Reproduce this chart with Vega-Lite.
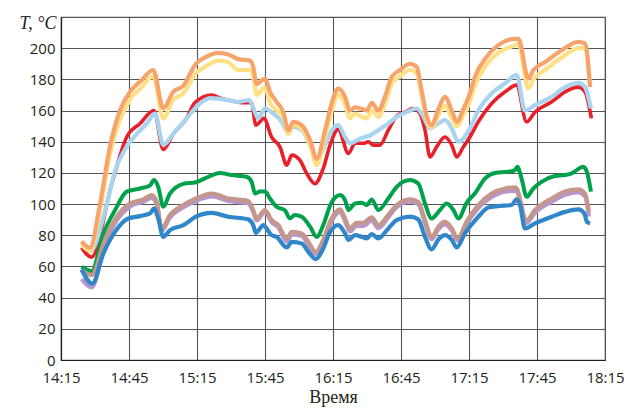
{
  "$schema": "https://vega.github.io/schema/vega-lite/v6.json",
  "width": 544,
  "height": 343,
  "autosize": {"type": "none"},
  "padding": {"left": 61, "top": 17, "right": 22, "bottom": 49},
  "background": "white",
  "config": {
    "view": {"stroke": "#555555", "strokeWidth": 1.2},
    "axis": {
      "labelFont": "Open Sans",
      "labelFontSize": 15,
      "labelColor": "#231f20",
      "ticks": false,
      "gridColor": "#555555",
      "gridOpacity": 1,
      "gridWidth": 1.1,
      "domainColor": "#231f20",
      "domainWidth": 1.2
    }
  },
  "datasets": {
    "red": [
      {"min": 9.1, "T": 72}, {"min": 13.5, "T": 66}, {"min": 22.4, "T": 113}, {"min": 29, "T": 143}, {"min": 34.9, "T": 151.7}, {"min": 41, "T": 160}, {"min": 45.1, "T": 135}, {"min": 49.5, "T": 145}, {"min": 55.4, "T": 155}, {"min": 59, "T": 165}, {"min": 66.5, "T": 170}, {"min": 70, "T": 168}, {"min": 76, "T": 166}, {"min": 80, "T": 165}, {"min": 84, "T": 165}, {"min": 86, "T": 150.6}, {"min": 89.5, "T": 155}, {"min": 92.9, "T": 143}, {"min": 96.6, "T": 136.7}, {"min": 99.6, "T": 125}, {"min": 101.8, "T": 131.4}, {"min": 105.4, "T": 128.2}, {"min": 108.4, "T": 119.7}, {"min": 112, "T": 113}, {"min": 115.7, "T": 122.9}, {"min": 118.7, "T": 137.8}, {"min": 122.3, "T": 148}, {"min": 126.8, "T": 132.5}, {"min": 129.7, "T": 139}, {"min": 133.4, "T": 139}, {"min": 135.6, "T": 140}, {"min": 137.8, "T": 137.8}, {"min": 140.7, "T": 137.8}, {"min": 144.4, "T": 147.4}, {"min": 148.1, "T": 156.4}, {"min": 151.8, "T": 159}, {"min": 155.4, "T": 161.3}, {"min": 158.4, "T": 158}, {"min": 160.6, "T": 147.4}, {"min": 162.8, "T": 130.3}, {"min": 165.7, "T": 136.7}, {"min": 169.4, "T": 143}, {"min": 172.4, "T": 137.8}, {"min": 174.6, "T": 130.3}, {"min": 177.5, "T": 136.7}, {"min": 180.4, "T": 143}, {"min": 184.1, "T": 152.8}, {"min": 190, "T": 164.5}, {"min": 195.9, "T": 172}, {"min": 201, "T": 176.3}, {"min": 205.4, "T": 152.8}, {"min": 209.1, "T": 159}, {"min": 216.5, "T": 165.6}, {"min": 222.4, "T": 172}, {"min": 228.2, "T": 175}, {"min": 231.2, "T": 172}, {"min": 234, "T": 155}
    ],
    "lightblue": [
      {"min": 9.1, "T": 74}, {"min": 13, "T": 70}, {"min": 20.2, "T": 100}, {"min": 24, "T": 122}, {"min": 28.2, "T": 135}, {"min": 33.4, "T": 145}, {"min": 38, "T": 152}, {"min": 41.5, "T": 158}, {"min": 45.1, "T": 138}, {"min": 49.5, "T": 145}, {"min": 55.4, "T": 155}, {"min": 61.3, "T": 164.5}, {"min": 66, "T": 168}, {"min": 73.8, "T": 166.7}, {"min": 78, "T": 165.5}, {"min": 83, "T": 166.7}, {"min": 84.5, "T": 163}, {"min": 87, "T": 155}, {"min": 90, "T": 161.3}, {"min": 93.7, "T": 158}, {"min": 97.4, "T": 152.8}, {"min": 100.3, "T": 145.3}, {"min": 102.5, "T": 149.6}, {"min": 106.2, "T": 147.4}, {"min": 109.9, "T": 137.8}, {"min": 112.8, "T": 129}, {"min": 116.5, "T": 137.8}, {"min": 118.7, "T": 145.3}, {"min": 122.3, "T": 150.6}, {"min": 125.3, "T": 143}, {"min": 127.5, "T": 138.9}, {"min": 131.9, "T": 142}, {"min": 136.3, "T": 144}, {"min": 140, "T": 147.4}, {"min": 144.4, "T": 151.7}, {"min": 148.1, "T": 156}, {"min": 152.5, "T": 159}, {"min": 156.9, "T": 161.3}, {"min": 159.9, "T": 156}, {"min": 162.8, "T": 148.5}, {"min": 166.5, "T": 151.7}, {"min": 169.4, "T": 153.8}, {"min": 172.4, "T": 148.5}, {"min": 175.3, "T": 140}, {"min": 180.4, "T": 148.5}, {"min": 184.1, "T": 160}, {"min": 190, "T": 171}, {"min": 195.9, "T": 177.4}, {"min": 201, "T": 182.7}, {"min": 204.7, "T": 160}, {"min": 209.1, "T": 163.5}, {"min": 216.5, "T": 168.8}, {"min": 222.4, "T": 175}, {"min": 228.2, "T": 177.8}, {"min": 231.2, "T": 175}, {"min": 233.8, "T": 161.3}
    ],
    "yellow": [
      {"min": 9.1, "T": 74}, {"min": 12.8, "T": 70}, {"min": 17.2, "T": 96}, {"min": 21.6, "T": 132}, {"min": 26, "T": 154}, {"min": 30.4, "T": 167}, {"min": 35.6, "T": 175}, {"min": 40.7, "T": 182}, {"min": 45.1, "T": 155}, {"min": 49.5, "T": 167}, {"min": 54, "T": 171}, {"min": 59.5, "T": 184}, {"min": 63.5, "T": 188}, {"min": 69.4, "T": 192}, {"min": 73.8, "T": 191}, {"min": 78.2, "T": 186}, {"min": 83.4, "T": 186}, {"min": 84.8, "T": 182}, {"min": 86.3, "T": 170}, {"min": 90, "T": 175}, {"min": 92.2, "T": 165}, {"min": 95.1, "T": 160}, {"min": 98.1, "T": 156}, {"min": 100.3, "T": 145}, {"min": 102.5, "T": 151}, {"min": 106.2, "T": 148.5}, {"min": 109.9, "T": 138}, {"min": 112.8, "T": 125}, {"min": 116.5, "T": 143}, {"min": 119.5, "T": 160}, {"min": 122.3, "T": 170}, {"min": 125.3, "T": 164}, {"min": 127.5, "T": 155}, {"min": 129.7, "T": 158}, {"min": 132.7, "T": 156}, {"min": 134.9, "T": 155}, {"min": 137.1, "T": 160}, {"min": 140, "T": 156}, {"min": 142.9, "T": 164}, {"min": 145.9, "T": 177}, {"min": 149.6, "T": 182}, {"min": 154, "T": 186}, {"min": 156.9, "T": 184}, {"min": 159.1, "T": 170}, {"min": 161.4, "T": 154}, {"min": 163.5, "T": 149}, {"min": 166.5, "T": 157}, {"min": 169.4, "T": 163}, {"min": 172.4, "T": 155}, {"min": 174.6, "T": 150}, {"min": 177.5, "T": 157}, {"min": 180.4, "T": 166}, {"min": 182.6, "T": 176}, {"min": 187, "T": 188}, {"min": 192.9, "T": 197}, {"min": 200.3, "T": 202}, {"min": 201.8, "T": 203}, {"min": 206.2, "T": 174}, {"min": 208.4, "T": 180}, {"min": 213.5, "T": 186}, {"min": 220.9, "T": 194}, {"min": 228.2, "T": 200}, {"min": 231.2, "T": 200}, {"min": 233.4, "T": 176}
    ],
    "orange": [
      {"min": 9.1, "T": 76}, {"min": 12.8, "T": 72}, {"min": 17.2, "T": 100}, {"min": 21.6, "T": 137}, {"min": 26, "T": 160}, {"min": 30.4, "T": 172}, {"min": 35.6, "T": 179.5}, {"min": 40.7, "T": 186}, {"min": 45.1, "T": 161.5}, {"min": 49.5, "T": 172}, {"min": 54, "T": 176}, {"min": 59.5, "T": 190}, {"min": 63.5, "T": 194}, {"min": 69.4, "T": 197}, {"min": 73.8, "T": 196}, {"min": 78.2, "T": 193}, {"min": 83.4, "T": 192}, {"min": 84.8, "T": 188}, {"min": 86.3, "T": 177}, {"min": 90, "T": 180.5}, {"min": 92.2, "T": 172}, {"min": 95.1, "T": 165.6}, {"min": 98.1, "T": 159}, {"min": 100.3, "T": 147.4}, {"min": 102.5, "T": 152.8}, {"min": 106.2, "T": 150.6}, {"min": 109.9, "T": 141}, {"min": 112.8, "T": 129}, {"min": 116.5, "T": 147.4}, {"min": 119.5, "T": 165}, {"min": 122.3, "T": 174}, {"min": 125.3, "T": 168.8}, {"min": 127.5, "T": 160}, {"min": 129.7, "T": 162}, {"min": 132.7, "T": 161}, {"min": 134.9, "T": 160}, {"min": 137.1, "T": 165}, {"min": 140, "T": 160}, {"min": 142.9, "T": 168.8}, {"min": 145.9, "T": 181.6}, {"min": 149.6, "T": 186}, {"min": 154, "T": 190}, {"min": 156.9, "T": 188}, {"min": 159.1, "T": 173}, {"min": 161.4, "T": 156}, {"min": 163.5, "T": 150.6}, {"min": 166.5, "T": 161}, {"min": 169.4, "T": 168.8}, {"min": 172.4, "T": 160}, {"min": 174.6, "T": 152.8}, {"min": 177.5, "T": 161}, {"min": 180.4, "T": 171}, {"min": 182.6, "T": 181.6}, {"min": 187, "T": 193}, {"min": 192.9, "T": 202}, {"min": 200.3, "T": 206}, {"min": 201.8, "T": 206}, {"min": 206.2, "T": 180.5}, {"min": 208.4, "T": 186}, {"min": 213.5, "T": 191}, {"min": 220.9, "T": 198.7}, {"min": 228.2, "T": 204}, {"min": 231.2, "T": 203}, {"min": 233.4, "T": 175}
    ],
    "green": [
      {"min": 9.1, "T": 59.8}, {"min": 13.5, "T": 57}, {"min": 18.7, "T": 81}, {"min": 23.8, "T": 96}, {"min": 29, "T": 108}, {"min": 34.9, "T": 110}, {"min": 39.3, "T": 112}, {"min": 41, "T": 115.4}, {"min": 42.9, "T": 111}, {"min": 45.1, "T": 98.3}, {"min": 48.1, "T": 106.8}, {"min": 54, "T": 113}, {"min": 59.5, "T": 114}, {"min": 65, "T": 117.5}, {"min": 70.1, "T": 120}, {"min": 75.3, "T": 118.6}, {"min": 81.9, "T": 117.5}, {"min": 84.1, "T": 114.3}, {"min": 85.6, "T": 106.8}, {"min": 87.8, "T": 108}, {"min": 90, "T": 108}, {"min": 92.2, "T": 103.6}, {"min": 95.1, "T": 98.3}, {"min": 98.8, "T": 96}, {"min": 101, "T": 90.8}, {"min": 103.2, "T": 93}, {"min": 106.2, "T": 91.9}, {"min": 109.9, "T": 85.5}, {"min": 112.8, "T": 79}, {"min": 115.7, "T": 86.5}, {"min": 119, "T": 100}, {"min": 123.1, "T": 105.8}, {"min": 125.3, "T": 102.6}, {"min": 126.8, "T": 96.2}, {"min": 129.7, "T": 100.4}, {"min": 132.7, "T": 100.9}, {"min": 134.9, "T": 99.4}, {"min": 137.1, "T": 103}, {"min": 140, "T": 96.2}, {"min": 144.4, "T": 103.6}, {"min": 148.1, "T": 111}, {"min": 154, "T": 115.4}, {"min": 157.6, "T": 113.2}, {"min": 160.6, "T": 100.4}, {"min": 163.5, "T": 90.8}, {"min": 167.2, "T": 96.2}, {"min": 170.2, "T": 100.4}, {"min": 173.1, "T": 96.2}, {"min": 175.3, "T": 90.8}, {"min": 179, "T": 101}, {"min": 182.6, "T": 106.8}, {"min": 187, "T": 116.4}, {"min": 191.5, "T": 120}, {"min": 197.3, "T": 120.7}, {"min": 200.3, "T": 121.8}, {"min": 201.3, "T": 123.9}, {"min": 203.2, "T": 116.4}, {"min": 205.4, "T": 104.7}, {"min": 208.4, "T": 110}, {"min": 212, "T": 114.3}, {"min": 217.9, "T": 118}, {"min": 222.4, "T": 118.6}, {"min": 225.3, "T": 119.7}, {"min": 230.4, "T": 123.9}, {"min": 232, "T": 120.7}, {"min": 233.8, "T": 108}
    ],
    "purple": [
      {"min": 9.1, "T": 52}, {"min": 13.5, "T": 46.5}, {"min": 19.4, "T": 74}, {"min": 24.6, "T": 89.5}, {"min": 30.4, "T": 98.5}, {"min": 36.3, "T": 101.5}, {"min": 40, "T": 104}, {"min": 42.2, "T": 100}, {"min": 44.4, "T": 83}, {"min": 48.1, "T": 91.5}, {"min": 54, "T": 98}, {"min": 59.5, "T": 102}, {"min": 66.5, "T": 105}, {"min": 73.8, "T": 102}, {"min": 82.6, "T": 100.5}, {"min": 84.8, "T": 95}, {"min": 86.3, "T": 89.5}, {"min": 90, "T": 95}, {"min": 92.9, "T": 88.5}, {"min": 95.9, "T": 85}, {"min": 99.6, "T": 76}, {"min": 101.8, "T": 80.5}, {"min": 106.2, "T": 79.5}, {"min": 109.1, "T": 74}, {"min": 112.4, "T": 68}, {"min": 115.7, "T": 75.5}, {"min": 119, "T": 88}, {"min": 123.1, "T": 95}, {"min": 125.3, "T": 89}, {"min": 127.5, "T": 82.5}, {"min": 130.4, "T": 86}, {"min": 133.4, "T": 86}, {"min": 137.1, "T": 89.5}, {"min": 140, "T": 84.5}, {"min": 144.4, "T": 91.5}, {"min": 148.1, "T": 98}, {"min": 154, "T": 101.5}, {"min": 157.6, "T": 100}, {"min": 160.6, "T": 88}, {"min": 163.5, "T": 77.5}, {"min": 166.5, "T": 84}, {"min": 169.4, "T": 87}, {"min": 172.4, "T": 83}, {"min": 175, "T": 76.5}, {"min": 179, "T": 87.5}, {"min": 184.1, "T": 97.5}, {"min": 190, "T": 104.5}, {"min": 195.9, "T": 108}, {"min": 200.6, "T": 108.5}, {"min": 205.4, "T": 88}, {"min": 209.1, "T": 94.5}, {"min": 216.5, "T": 101.5}, {"min": 222.4, "T": 106}, {"min": 228.2, "T": 107.5}, {"min": 231.2, "T": 105}, {"min": 232.9, "T": 92}
    ],
    "brown": [
      {"min": 9.1, "T": 57.7}, {"min": 13.5, "T": 54.5}, {"min": 19.4, "T": 77}, {"min": 24.6, "T": 91.9}, {"min": 30.4, "T": 100.4}, {"min": 36.3, "T": 103}, {"min": 40, "T": 105.8}, {"min": 42.2, "T": 101.5}, {"min": 44.4, "T": 84.4}, {"min": 48.1, "T": 93}, {"min": 54, "T": 99.4}, {"min": 59.5, "T": 103.6}, {"min": 66.5, "T": 106.8}, {"min": 73.8, "T": 103.6}, {"min": 82.6, "T": 102}, {"min": 84.8, "T": 96.2}, {"min": 86.3, "T": 90.8}, {"min": 90, "T": 96.2}, {"min": 92.9, "T": 89.7}, {"min": 95.9, "T": 86.5}, {"min": 99.6, "T": 77.9}, {"min": 101.8, "T": 82.2}, {"min": 106.2, "T": 81.2}, {"min": 109.1, "T": 75.8}, {"min": 112.4, "T": 69.4}, {"min": 115.7, "T": 77}, {"min": 119, "T": 89.7}, {"min": 123.1, "T": 96.6}, {"min": 125.3, "T": 90.8}, {"min": 127.5, "T": 84.4}, {"min": 130.4, "T": 88}, {"min": 133.4, "T": 88}, {"min": 137.1, "T": 91.5}, {"min": 140, "T": 86.5}, {"min": 144.4, "T": 93}, {"min": 148.1, "T": 99.4}, {"min": 154, "T": 103}, {"min": 157.6, "T": 101.5}, {"min": 160.6, "T": 89.7}, {"min": 163.5, "T": 79}, {"min": 166.5, "T": 85.5}, {"min": 169.4, "T": 88.7}, {"min": 172.4, "T": 84.4}, {"min": 175, "T": 77.9}, {"min": 179, "T": 89}, {"min": 184.1, "T": 99.4}, {"min": 190, "T": 106.8}, {"min": 195.9, "T": 110}, {"min": 200.6, "T": 110.7}, {"min": 205.4, "T": 89.7}, {"min": 209.1, "T": 96.2}, {"min": 216.5, "T": 103.6}, {"min": 222.4, "T": 108}, {"min": 228.2, "T": 109.4}, {"min": 231.2, "T": 106.8}, {"min": 232.9, "T": 95}
    ],
    "blue": [
      {"min": 9.1, "T": 58}, {"min": 13.8, "T": 49}, {"min": 18.7, "T": 68.4}, {"min": 23.8, "T": 82.2}, {"min": 29.7, "T": 90.8}, {"min": 34.9, "T": 92.3}, {"min": 39.3, "T": 94}, {"min": 41, "T": 97.2}, {"min": 42.9, "T": 90.8}, {"min": 45.1, "T": 79}, {"min": 48.1, "T": 83.3}, {"min": 54, "T": 86.5}, {"min": 59.5, "T": 91.9}, {"min": 66.5, "T": 94.4}, {"min": 73.8, "T": 91.9}, {"min": 82.6, "T": 90.2}, {"min": 84.8, "T": 86.5}, {"min": 86, "T": 81.6}, {"min": 89.3, "T": 86.5}, {"min": 90.7, "T": 84.4}, {"min": 92.9, "T": 80.1}, {"min": 95.1, "T": 79}, {"min": 99.6, "T": 72.2}, {"min": 101.8, "T": 75.8}, {"min": 106.2, "T": 74.8}, {"min": 109.1, "T": 69.4}, {"min": 112.4, "T": 64.7}, {"min": 115.7, "T": 71.6}, {"min": 118.7, "T": 82.2}, {"min": 122.3, "T": 86.5}, {"min": 125.3, "T": 81.2}, {"min": 126.8, "T": 77}, {"min": 129.7, "T": 80.1}, {"min": 132.7, "T": 79}, {"min": 134.9, "T": 78}, {"min": 137.1, "T": 80.8}, {"min": 140, "T": 78}, {"min": 144.4, "T": 84.4}, {"min": 148.1, "T": 89.7}, {"min": 154, "T": 91.9}, {"min": 157.6, "T": 90.2}, {"min": 160.6, "T": 79}, {"min": 163.5, "T": 70.9}, {"min": 166.5, "T": 77.3}, {"min": 169.4, "T": 80.1}, {"min": 172.4, "T": 77}, {"min": 174.6, "T": 72.2}, {"min": 178.2, "T": 81.2}, {"min": 184.1, "T": 91.9}, {"min": 188.5, "T": 97.8}, {"min": 192.9, "T": 98.7}, {"min": 198.8, "T": 99.4}, {"min": 201, "T": 103}, {"min": 202.5, "T": 99.4}, {"min": 204.7, "T": 84.4}, {"min": 209.1, "T": 87.6}, {"min": 216.5, "T": 91.9}, {"min": 222.4, "T": 95}, {"min": 228.2, "T": 96.6}, {"min": 230.9, "T": 94}, {"min": 232, "T": 88.7}, {"min": 233.4, "T": 87.6}
    ]
  },
  "encoding": {
    "x": {
      "field": "min",
      "type": "quantitative",
      "scale": {"domain": [0, 240], "nice": false, "zero": false},
      "axis": {
        "values": [0, 30, 60, 90, 120, 150, 180, 210, 240],
        "labelExpr": "floor((datum.value + 855) / 60) + ':' + (((datum.value + 855) % 60) < 10 ? '0' : '') + ((datum.value + 855) % 60)",
        "labelPadding": 10,
        "labelFlush": false,
        "title": "Время",
        "titleFont": "Liberation Serif",
        "titleFontWeight": "normal",
        "titleFontSize": 18,
        "titleColor": "#231f20",
        "titlePadding": 3
      }
    },
    "y": {
      "field": "T",
      "type": "quantitative",
      "scale": {"domain": [0, 220], "nice": false},
      "axis": {
        "values": [0, 20, 40, 60, 80, 100, 120, 140, 160, 180, 200],
        "labelPadding": 6,
        "title": "T, °C",
        "titleAngle": 0,
        "titleAlign": "right",
        "titleBaseline": "middle",
        "titleX": -5,
        "titleY": 6,
        "titleFont": "Liberation Serif",
        "titleFontStyle": "italic",
        "titleFontWeight": "normal",
        "titleFontSize": 18,
        "titleColor": "#231f20"
      }
    }
  },
  "layer": [
    {"data": {"name": "red"}, "mark": {"type": "line", "color": "#E8202A", "strokeWidth": 3.6, "interpolate": "monotone"}},
    {"data": {"name": "lightblue"}, "mark": {"type": "line", "color": "#A9D4F0", "strokeWidth": 4.2, "interpolate": "monotone"}},
    {"data": {"name": "yellow"}, "mark": {"type": "line", "color": "#FFE084", "strokeWidth": 4.2, "interpolate": "monotone"}},
    {"data": {"name": "orange"}, "mark": {"type": "line", "color": "#F7A46C", "strokeWidth": 4.2, "interpolate": "monotone"}},
    {"data": {"name": "green"}, "mark": {"type": "line", "color": "#00A14B", "strokeWidth": 4, "interpolate": "monotone"}},
    {"data": {"name": "purple"}, "mark": {"type": "line", "color": "#B597CD", "strokeWidth": 4.2, "interpolate": "monotone"}},
    {"data": {"name": "brown"}, "mark": {"type": "line", "color": "#C5968C", "strokeWidth": 4.2, "interpolate": "monotone"}},
    {"data": {"name": "blue"}, "mark": {"type": "line", "color": "#2F86C8", "strokeWidth": 4.2, "interpolate": "monotone"}}
  ]
}
